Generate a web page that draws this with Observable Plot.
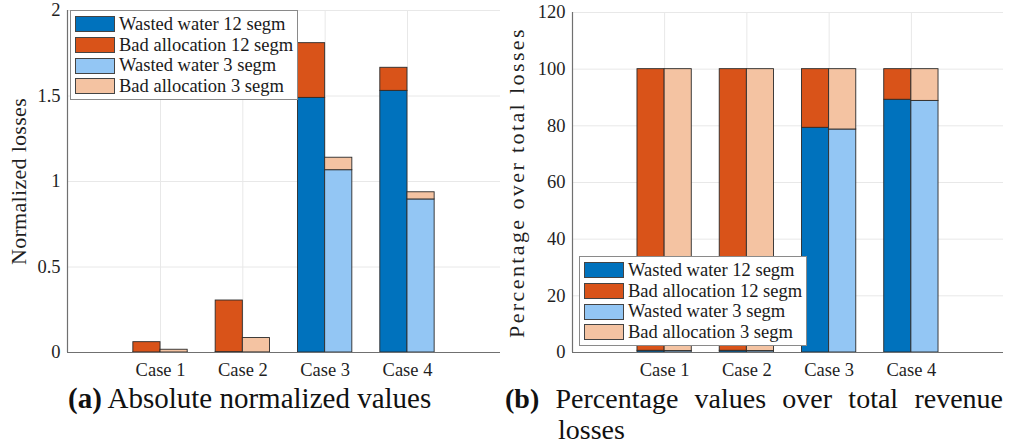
<!DOCTYPE html>
<html>
<head>
<meta charset="utf-8">
<script src="https://cdn.jsdelivr.net/npm/d3@7"></script>
<script src="https://cdn.jsdelivr.net/npm/@observablehq/plot@0.6"></script>
<style>
  html, body { margin: 0; padding: 0; background: #fff; }
  #wrap { position: relative; width: 1009px; height: 448px; overflow: hidden; font-family: "Liberation Serif", serif; color: #1a1a1a; }
  .panel { position: absolute; top: 0; }
  .legend { position: absolute; background: #fff; border: 1px solid #8a8a8a; padding: 3px 4px 2px 4px; font-size: 18.5px; line-height: 20.7px; }
  .legend .row { display: flex; align-items: center; white-space: nowrap; }
  .legend .sw { width: 38px; height: 14px; border: 1px solid #444; margin-right: 4px; flex: none; }
  .caption { position: absolute; font-size: 28px; line-height: 31px; color: #111; }
  .caption b { font-weight: bold; }
</style>
</head>
<body>
<div id="wrap">
  <div id="panelA" class="panel" style="left:0px"></div>
  <div id="panelB" class="panel" style="left:505px"></div>
  <div id="legendA" class="legend" style="left:70px; top:10px"></div>
  <div id="legendB" class="legend" style="left:579px; top:256px"></div>
  <div class="caption" style="left:68px; top:383px; white-space:nowrap; font-size:29px"><b>(a)</b> Absolute normalized values</div>
  <div class="caption" style="left:505px; top:383px; width:445px; padding-left:53px; text-indent:-53px; text-align:justify"><b>(b)</b> Percentage values over total revenue losses</div>
</div>
<script>
// Categories and series
const cases = [1, 2, 3, 4];
const caseLabels = ["Case 1", "Case 2", "Case 3", "Case 4"];
const series = ["Wasted water 12 segm", "Bad allocation 12 segm", "Wasted water 3 segm", "Bad allocation 3 segm"];
const colors = ["#0072BD", "#D95319", "#93C6F4", "#F4C3A2"];

// (a) absolute normalized losses
const wasted12 = [0.0004, 0.002, 1.489, 1.530];
const bad12 = [0.060, 0.302, 0.320, 0.135];
const wasted3 = [0.0001, 0.0005, 1.066, 0.895];
const bad3 = [0.016, 0.084, 0.073, 0.042];

// (b) percentage over total losses
const pctWasted12 = [0.6, 0.6, 79.3, 89.2];
const pctBad12 = [99.4, 99.4, 20.7, 10.8];
const pctWasted3 = [0.5, 0.5, 78.7, 88.8];
const pctBad3 = [99.5, 99.5, 21.3, 11.2];

// y tick labels
const ticksA = [0, 0.5, 1, 1.5, 2];
const ticksB = [0, 20, 40, 60, 80, 100, 120];

const BAR = 0.33; // bar width in case units

// Build stacked rectangles: wasted water at the bottom, bad allocation on top
function stackRows(w12, b12, w3, b3) {
  const rows = [];
  cases.forEach((c, i) => {
    const groups = [
      {x1: c - BAR, x2: c, w: w12[i], b: b12[i], sw: series[0], sb: series[1]},
      {x1: c, x2: c + BAR, w: w3[i], b: b3[i], sw: series[2], sb: series[3]}
    ];
    for (const g of groups) {
      rows.push({x1: g.x1, x2: g.x2, y1: 0, y2: g.w, s: g.sw});
      rows.push({x1: g.x1, x2: g.x2, y1: g.w, y2: g.w + g.b, s: g.sb});
    }
  });
  return rows;
}

function chart({rows, xDomain, yDomain, yTicks, yLabel, labelDx, labelSize, labelSpacing, width, height, marginLeft, marginRight, marginTop, marginBottom}) {
  const svg = Plot.plot({
    width, height, marginLeft, marginRight, marginTop, marginBottom,
    style: {fontFamily: "Liberation Serif, serif", fontSize: "18.5px", color: "#1f1f1f", background: "transparent", overflow: "visible"},
    x: {type: "linear", domain: xDomain},
    y: {domain: yDomain},
    color: {domain: series, range: colors},
    marks: [
      Plot.gridX(cases, {stroke: "#e8e8e8", strokeOpacity: 1}),
      Plot.gridY(yTicks, {stroke: "#e8e8e8", strokeOpacity: 1}),
      Plot.rectY(rows, {x1: "x1", x2: "x2", y1: "y1", y2: "y2", fill: "s", stroke: "#2b2b2b", strokeWidth: 0.9}),
      Plot.ruleY([yDomain[0]], {stroke: "#707070", strokeWidth: 1.2}),
      Plot.ruleX([xDomain[0]], {stroke: "#707070", strokeWidth: 1.2}),
      Plot.axisX(cases, {tickFormat: d => caseLabels[d - 1], tickSize: 0, tickPadding: 10, label: null}),
      Plot.axisY(yTicks, {tickFormat: d => String(d), tickSize: 0, tickPadding: 7, label: null}),
      Plot.text([yLabel], {frameAnchor: "left", textAnchor: "middle", lineAnchor: "middle", rotate: -90, dx: labelDx, fontSize: labelSize, text: d => d, fill: "#1f1f1f", className: "ylab"})
    ]
  });
  d3.select(svg).selectAll(".ylab text").style("letter-spacing", labelSpacing + "px");
  return svg;
}

document.getElementById("panelA").appendChild(chart({
  rows: stackRows(wasted12, bad12, wasted3, bad3),
  xDomain: [-0.13, 5.13], yDomain: [0, 2], yTicks: ticksA,
  yLabel: "Normalized losses", labelDx: -49, labelSize: 22, labelSpacing: 0.3,
  width: 505, height: 385, marginLeft: 67, marginRight: 5, marginTop: 10, marginBottom: 33
}));

document.getElementById("panelB").appendChild(chart({
  rows: stackRows(pctWasted12, pctBad12, pctWasted3, pctBad3),
  xDomain: [-0.12, 5.12], yDomain: [0, 120], yTicks: ticksB,
  yLabel: "Percentage over total losses", labelDx: -56, labelSize: 22, labelSpacing: 2.4,
  width: 504, height: 385, marginLeft: 67, marginRight: 6, marginTop: 12, marginBottom: 33
}));

// Legends
for (const id of ["legendA", "legendB"]) {
  const el = document.getElementById(id);
  series.forEach((s, i) => {
    const row = document.createElement("div");
    row.className = "row";
    const sw = document.createElement("span");
    sw.className = "sw";
    sw.style.background = colors[i];
    const t = document.createElement("span");
    t.textContent = s;
    row.appendChild(sw);
    row.appendChild(t);
    el.appendChild(row);
  });
}
</script>
</body>
</html>
